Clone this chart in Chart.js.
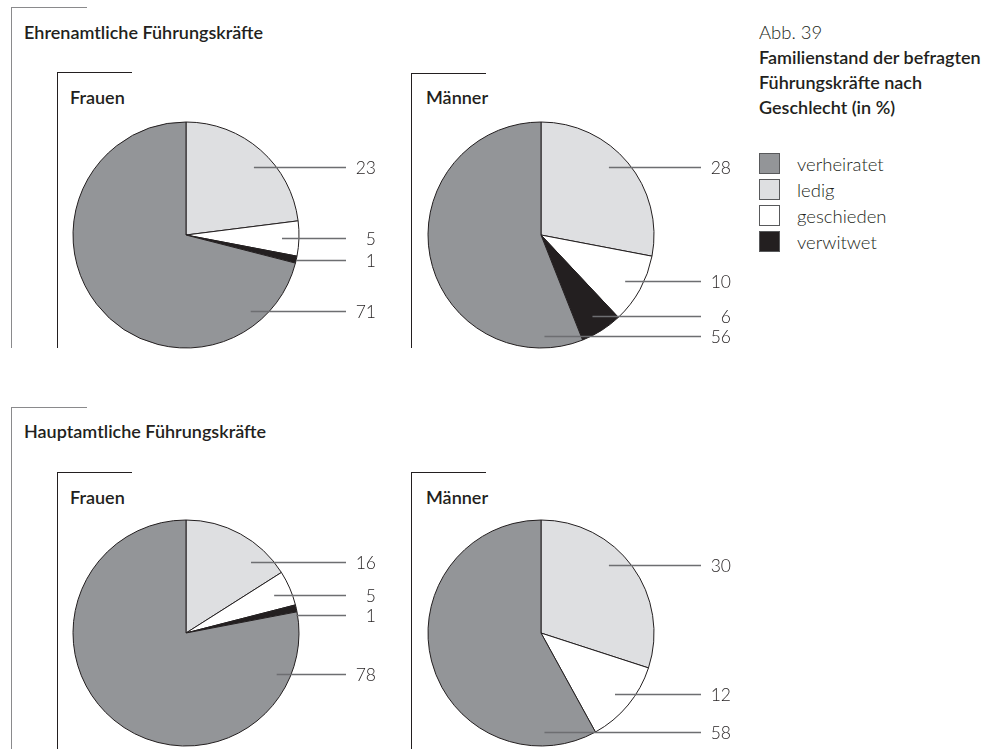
<!DOCTYPE html>
<html lang="de">
<head>
<meta charset="utf-8">
<title>Familienstand der befragten Führungskräfte</title>
<script src="https://cdn.jsdelivr.net/npm/chart.js@4.4.1/dist/chart.umd.min.js"></script>
<style>
  html, body { margin: 0; padding: 0; background: #fff; overflow: hidden; }
  body { width: 987px; height: 749px; position: relative; font-family: Lato, "Open Sans", sans-serif; color: #231f20; }
  .abs { position: absolute; white-space: nowrap; }
  .outer { position: absolute; border-top: 1.5px solid #8a8a8c; border-left: 1.5px solid #8a8a8c; width: 75px; }
  .inner { position: absolute; border-top: 1px solid #231f20; border-left: 1px solid #231f20; width: 74px; }
  .head { font-size: 18px; font-weight: 600; line-height: 20px; }
  .note { font-size: 18.5px; font-weight: 300; line-height: 20px; }
  .sw { position: absolute; width: 19px; height: 19px; border: 1.5px solid #58595b; }
  canvas { position: absolute; }
</style>
</head>
<body>

<!-- Ehrenamtlich -->
<div class="outer" style="left:11px; top:7px; height:340px;"></div>
<div class="abs head" style="left:24px; top:22px;">Ehrenamtliche Führungskräfte</div>
<div class="inner" style="left:57px; top:72px; height:275px;"></div>
<div class="abs head" style="left:70px; top:87px;">Frauen</div>
<div class="inner" style="left:411px; top:73px; height:274px;"></div>
<div class="abs head" style="left:426px; top:87px;">Männer</div>

<!-- Hauptamtlich -->
<div class="outer" style="left:11px; top:407px; height:360px;"></div>
<div class="abs head" style="left:24px; top:421px;">Hauptamtliche Führungskräfte</div>
<div class="inner" style="left:57px; top:472px; height:300px;"></div>
<div class="abs head" style="left:70px; top:487px;">Frauen</div>
<div class="inner" style="left:411px; top:472px; height:300px;"></div>
<div class="abs head" style="left:426px; top:487px;">Männer</div>

<!-- Titel + Legende -->
<div class="abs note" style="left:759px; top:22px;">Abb. 39</div>
<div class="abs head" style="left:759px; top:47px;">Familienstand der befragten</div>
<div class="abs head" style="left:759px; top:72px;">Führungskräfte nach</div>
<div class="abs head" style="left:759px; top:97px;">Geschlecht (in %)</div>
<div id="legend"></div>

<canvas id="ehrenFrauen" width="330" height="260" style="left:56px; top:110px;"></canvas>
<canvas id="ehrenMaenner" width="330" height="260" style="left:411px; top:110px;"></canvas>
<canvas id="hauptFrauen" width="330" height="260" style="left:56px; top:508px;"></canvas>
<canvas id="hauptMaenner" width="330" height="260" style="left:411px; top:508px;"></canvas>

<script>
// Reihenfolge im Uhrzeigersinn ab 12 Uhr
const categories = ['ledig', 'geschieden', 'verwitwet', 'verheiratet'];
const colors = ['#dedfe1', '#ffffff', '#231f20', '#939598'];
const legendOrder = ['verheiratet', 'ledig', 'geschieden', 'verwitwet'];

const ehrenFrauen = [23, 5, 1, 71];
const ehrenMaenner = [28, 10, 6, 56];
const hauptFrauen = [16, 5, 1, 78];
const hauptMaenner = [30, 12, 0, 58];

// Legende
const legend = document.getElementById('legend');
legendOrder.forEach(function(name, i) {
    const c = colors[categories.indexOf(name)];
    const top = 153 + i * 26;
    legend.insertAdjacentHTML('beforeend',
        '<div class="sw" style="left:759px; top:' + top + 'px; background:' + c + ';"></div>' +
        '<div class="abs note" style="left:797px; top:' + (top + 1) + 'px;">' + name + '</div>');
});

// Beschriftung mit waagerechten Hinweislinien rechts neben dem Kreis
const leaderLabels = {
    id: 'leaderLabels',
    afterDatasetsDraw(chart) {
        const ctx = chart.ctx;
        const meta = chart.getDatasetMeta(0);
        const values = chart.data.datasets[0].data;
        const deg = Math.PI / 180;
        let lastY = -Infinity;
        const items = [];
        meta.data.forEach(function(arc, i) {
            const v = values[i];
            if (!v) return;
            const p = arc.getProps(['x', 'y', 'startAngle', 'endAngle', 'outerRadius'], true);
            const s = p.startAngle + Math.PI / 2;
            const e = p.endAngle + Math.PI / 2;
            let a = (s + e) / 2;
            let rf = v < 3 ? 1 : 0.85;
            if (a > Math.PI) {
                // grosses Segment links: Ansatz unten rechts im Segment
                a = Math.min(s + 35 * deg, 178 * deg);
                rf = 0.88;
            } else if (e - s >= 50 * deg) {
                a = Math.min(Math.max(45 * deg, s + 15 * deg), e - 15 * deg);
            }
            const ax = p.x + p.outerRadius * rf * Math.sin(a);
            let ay = p.y - p.outerRadius * rf * Math.cos(a);
            if (ay < lastY + 20) ay = lastY + 20;
            lastY = ay;
            items.push({ ax: ax, ay: Math.round(ay), v: v, cx: p.x });
        });
        ctx.save();
        items.forEach(function(it) {
            ctx.strokeStyle = '#6d6e71';
            ctx.lineWidth = 1.3;
            ctx.beginPath();
            ctx.moveTo(it.ax, it.ay + 0.5);
            ctx.lineTo(it.cx + 160, it.ay + 0.5);
            ctx.stroke();
            ctx.fillStyle = '#231f20';
            ctx.font = '300 17.5px Lato';
            ctx.textAlign = 'right';
            ctx.textBaseline = 'alphabetic';
            ctx.fillText(String(it.v), it.cx + 190, it.ay + 7);
        });
        ctx.restore();
    }
};

function makePie(id, values) {
    return new Chart(document.getElementById(id).getContext('2d'), {
        type: 'pie',
        data: {
            labels: categories,
            datasets: [{
                data: values,
                backgroundColor: colors,
                borderColor: '#231f20',
                borderWidth: 1
            }]
        },
        options: {
            responsive: false,
            animation: false,
            radius: 113,
            layout: { padding: { left: 0, top: 0, right: 70, bottom: 10 } },
            plugins: {
                legend: { display: false },
                tooltip: { enabled: false }
            },
            events: []
        },
        plugins: [leaderLabels]
    });
}

makePie('ehrenFrauen', ehrenFrauen);
makePie('ehrenMaenner', ehrenMaenner);
makePie('hauptFrauen', hauptFrauen);
makePie('hauptMaenner', hauptMaenner);
</script>
</body>
</html>
